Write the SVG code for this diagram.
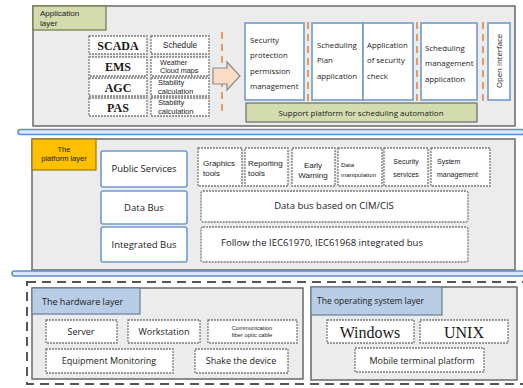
<svg xmlns="http://www.w3.org/2000/svg" width="523" height="388" viewBox="0 0 523 388">
<defs>
<style>
.t{font-family:"Open Sans","Liberation Sans",sans-serif;fill:#1a1a1a}
.n{font-family:"Liberation Sans",Arial,sans-serif;fill:#1a1a1a}
.s{font-family:"Liberation Serif","Times New Roman",serif;font-weight:bold;fill:#1a1a1a}
.r{font-family:"Liberation Serif","Times New Roman",serif;font-weight:normal;fill:#1a1a1a}
.panel{fill:#ececec;stroke:#6a6a6a;stroke-width:1.5}
.dot{fill:#fff;stroke:#7a7a7a;stroke-width:1.3;stroke-dasharray:2 1}
.blue{fill:#fff;stroke:#6f9bcf;stroke-width:1.6}
.od{stroke:#e89a5a;stroke-width:2;stroke-dasharray:7 5}
.bar{fill:#dce8f6;stroke:#5b8fcc;stroke-width:1.5}
.lbl{fill:#b9cde6;stroke:#6a7e98;stroke-width:1.2}
</style>
</defs>

<!-- Application layer -->
<g id="application-layer">
<rect class="panel" x="33" y="6" width="482" height="120"/>
<rect x="33" y="6" width="73" height="24" fill="#d3dbaf" stroke="#6d7a45" stroke-width="1.2"/>
<text class="n" x="40" y="16" font-size="8">Application</text>
<text class="n" x="40" y="26" font-size="8">layer</text>
</g>
<g id="scada"><rect class="dot" x="89" y="36" width="58" height="18"/><text class="s" x="118" y="49.5" font-size="12" text-anchor="middle">SCADA</text></g>
<g id="ems"><rect class="dot" x="89" y="57" width="58" height="19"/><text class="s" x="118" y="71" font-size="12" text-anchor="middle">EMS</text></g>
<g id="agc"><rect class="dot" x="89" y="78" width="58" height="18"/><text class="s" x="118" y="91.5" font-size="12" text-anchor="middle">AGC</text></g>
<g id="pas"><rect class="dot" x="89" y="98" width="58" height="18"/><text class="s" x="118" y="111.5" font-size="12" text-anchor="middle">PAS</text></g>
<g id="schedule"><rect class="dot" x="151" y="36" width="58" height="18"/><text class="n" x="180" y="48" font-size="8.2" text-anchor="middle">Schedule</text></g>
<g id="weather"><rect class="dot" x="151" y="57" width="58" height="19"/><text class="n" x="160" y="64.8" font-size="7.2">Weather</text><text class="n" x="160" y="73.2" font-size="7.2">Cloud maps</text></g>
<g id="stability1"><rect class="dot" x="151" y="78" width="58" height="18"/><text class="n" x="158" y="85.2" font-size="7.5">Stability</text><text class="n" x="158" y="93.9" font-size="7.5">calculation</text></g>
<g id="stability2"><rect class="dot" x="151" y="98" width="58" height="18"/><text class="n" x="158" y="105.2" font-size="7.5">Stability</text><text class="n" x="158" y="113.9" font-size="7.5">calculation</text></g>

<g id="security-protection"><rect class="blue" x="245" y="23" width="59" height="77"/>
<text class="t" font-size="7.8"><tspan x="250" y="43">Security</tspan><tspan x="250" y="58">protection</tspan><tspan x="250" y="74">permission</tspan><tspan x="250" y="89">management</tspan></text></g>
<g id="scheduling-plan"><rect class="blue" x="312" y="23" width="51" height="77"/>
<text class="t" font-size="7.8"><tspan x="317" y="48">Scheduling</tspan><tspan x="317" y="63">Plan</tspan><tspan x="317" y="79">application</tspan></text></g>
<g id="security-check"><rect class="blue" x="363" y="23" width="50" height="77"/>
<text class="t" font-size="7.8"><tspan x="367" y="48">Application</tspan><tspan x="367" y="63">of security</tspan><tspan x="367" y="79">check</tspan></text></g>
<g id="scheduling-management"><rect class="blue" x="421" y="23" width="56" height="77"/>
<text class="t" font-size="7.8"><tspan x="425" y="51">Scheduling</tspan><tspan x="425" y="66">management</tspan><tspan x="425" y="82">application</tspan></text></g>
<g id="open-interface"><rect class="blue" x="488" y="23" width="22" height="77"/>
<text class="t" font-size="7.8" text-anchor="middle" transform="translate(502 61) rotate(-90)">Open interface</text></g>
<g id="support-platform"><rect x="246" y="103" width="231" height="19" fill="#d3dcaf" stroke="#6a6a6a" stroke-width="1.2"/>
<text class="t" x="361" y="115.5" font-size="8" text-anchor="middle">Support platform for scheduling automation</text></g>

<g id="connectors">
<line class="od" x1="222" y1="32" x2="222" y2="113"/>
<line class="od" x1="308" y1="22" x2="308" y2="101"/>
<line class="od" x1="417" y1="22" x2="417" y2="101"/>
<line class="od" x1="483" y1="22" x2="483" y2="101"/>
<path d="M213 68 H227 V62 L240 76 L227 90 V84 H213 Z" fill="#fbdcc6" stroke="#8a8a8a" stroke-width="1.2"/>
</g>

<!-- separator bars -->
<g id="separator-1"><rect class="bar" x="18" y="129.5" width="506" height="5" rx="2.5"/></g>

<!-- Platform layer -->
<g id="platform-layer">
<rect class="panel" x="32" y="139" width="483" height="131"/>
<rect x="32" y="139" width="64" height="31" fill="#ffc000" stroke="#9a7a10" stroke-width="1.2"/>
<text class="n" x="64" y="152" font-size="7.5" text-anchor="middle">The</text>
<text class="n" x="64" y="161" font-size="7.5" text-anchor="middle">platform layer</text>
</g>
<g id="public-services"><rect class="blue" x="101" y="151" width="86" height="36" rx="2"/><text class="t" x="144" y="172" font-size="9.5" text-anchor="middle">Public Services</text></g>
<g id="data-bus"><rect class="blue" x="101" y="191" width="86" height="33" rx="2"/><text class="t" x="144" y="211" font-size="9.5" text-anchor="middle">Data Bus</text></g>
<g id="integrated-bus"><rect class="blue" x="101" y="227" width="86" height="35" rx="2"/><text class="t" x="144" y="248" font-size="9.5" text-anchor="middle">Integrated Bus</text></g>
<g id="graphics-tools"><rect class="dot" x="198" y="148" width="44" height="38"/><text class="n" font-size="8"><tspan x="203" y="166">Graphics</tspan><tspan x="203" y="176">tools</tspan></text></g>
<g id="reporting-tools"><rect class="dot" x="245" y="148" width="43" height="38"/><text class="n" font-size="8"><tspan x="248" y="166">Reporting</tspan><tspan x="248" y="176">tools</tspan></text></g>
<g id="early-warning"><rect class="dot" x="292" y="148" width="43" height="38"/><text class="n" font-size="8" text-anchor="middle"><tspan x="313" y="168">Early</tspan><tspan x="313" y="178">Warning</tspan></text></g>
<g id="data-manipulation"><rect class="dot" x="338" y="148" width="44" height="38"/><text class="n" font-size="6.2"><tspan x="341" y="167">Data</tspan><tspan x="341" y="177">manipulation</tspan></text></g>
<g id="security-services"><rect class="dot" x="384" y="148" width="44" height="38"/><text class="n" font-size="7" text-anchor="middle"><tspan x="406" y="164">Security</tspan><tspan x="406" y="177">services</tspan></text></g>
<g id="system-management"><rect class="dot" x="431" y="148" width="59" height="38"/><text class="n" font-size="7"><tspan x="437" y="164">System</tspan><tspan x="437" y="177">management</tspan></text></g>
<g id="cim-bus"><rect class="dot" x="201" y="191" width="267" height="31" rx="2"/><text class="t" x="334" y="209" font-size="9.5" text-anchor="middle">Data bus based on CIM/CIS</text></g>
<g id="iec-bus"><rect class="dot" x="201" y="227" width="267" height="35" rx="2"/><text class="t" x="322" y="246" font-size="9.5" text-anchor="middle">Follow the IEC61970, IEC61968 integrated bus</text></g>

<g id="separator-2"><rect class="bar" x="12" y="271" width="512" height="5" rx="2.5"/></g>

<!-- Bottom -->
<g id="base-frame"><rect x="27" y="282" width="500" height="102" fill="none" stroke="#555" stroke-width="2" stroke-dasharray="9 6"/></g>
<g id="hardware-layer">
<rect class="panel" x="32" y="288" width="271" height="91"/>
<rect class="lbl" x="32" y="288" width="108" height="26"/>
<text class="t" x="42" y="305" font-size="9">The hardware layer</text>
</g>
<g id="server"><rect class="dot" x="46" y="320" width="71" height="23"/><text class="t" x="81" y="335" font-size="9" text-anchor="middle">Server</text></g>
<g id="workstation"><rect class="dot" x="128" y="320" width="72" height="23"/><text class="t" x="164" y="335" font-size="9" text-anchor="middle">Workstation</text></g>
<g id="fiber"><rect class="dot" x="208" y="320" width="89" height="23"/><text class="n" font-size="5.8" text-anchor="middle"><tspan x="252" y="330">Communication</tspan><tspan x="252" y="337">fiber optic cable</tspan></text></g>
<g id="equipment-monitoring"><rect class="dot" x="46" y="349" width="127" height="24"/><text class="t" x="109" y="364" font-size="9" text-anchor="middle">Equipment Monitoring</text></g>
<g id="shake-device"><rect class="dot" x="195" y="349" width="93" height="24"/><text class="t" x="241" y="364" font-size="9" text-anchor="middle">Shake the device</text></g>

<g id="os-layer">
<rect class="panel" x="311" y="287" width="206" height="93"/>
<rect class="lbl" x="311" y="287" width="131" height="28"/>
<text class="t" x="317" y="304" font-size="8.5">The operating system layer</text>
</g>
<g id="windows"><rect class="dot" x="327" y="320" width="87" height="23"/><text class="r" x="370" y="338" font-size="16" text-anchor="middle">Windows</text></g>
<g id="unix"><rect class="dot" x="420" y="320" width="88" height="23"/><text class="r" x="464" y="338" font-size="16" text-anchor="middle">UNIX</text></g>
<g id="mobile"><rect class="dot" x="355" y="348" width="129" height="24"/><text class="t" x="422" y="364" font-size="9" text-anchor="middle">Mobile terminal platform</text></g>
</svg>
